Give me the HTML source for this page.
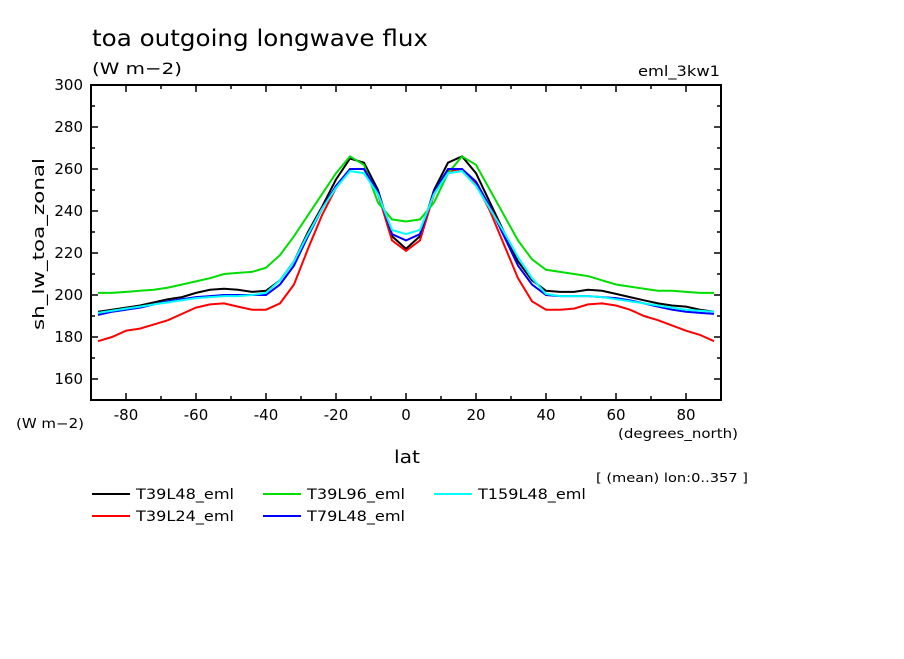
<!DOCTYPE html>
<html><head><meta charset="utf-8"><style>
body{margin:0;background:#fff;}
svg text{font-family:"DejaVu Sans","Liberation Sans",sans-serif;fill:#000;}
</style></head><body>
<svg id="chart" width="904" height="654" viewBox="0 0 904 654" xmlns="http://www.w3.org/2000/svg">
<rect width="904" height="654" fill="#fff"/>
<text x="92" y="46" font-size="23" textLength="336" lengthAdjust="spacingAndGlyphs">toa outgoing longwave flux</text>
<text x="92" y="74" font-size="16" textLength="90" lengthAdjust="spacingAndGlyphs">(W m−2)</text>
<text x="638" y="76" font-size="14" textLength="82" lengthAdjust="spacingAndGlyphs">eml_3kw1</text>
<text x="16" y="428" font-size="13" textLength="68" lengthAdjust="spacingAndGlyphs">(W m−2)</text>
<text x="618" y="438" font-size="13" textLength="120" lengthAdjust="spacingAndGlyphs">(degrees_north)</text>
<text x="394" y="463" font-size="18" textLength="26" lengthAdjust="spacingAndGlyphs">lat</text>
<text x="44" y="330" font-size="16" textLength="172" lengthAdjust="spacingAndGlyphs" transform="rotate(-90 44 330)">sh_lw_toa_zonal</text>
<text x="596" y="482" font-size="12" textLength="152" lengthAdjust="spacingAndGlyphs">[ (mean) lon:0..357 ]</text>
<g id="axes"></g>
<g id="series" fill="none" stroke-width="2"></g>
<g id="legend"></g>
</svg>
<script>
const lats=[-88,-84,-80,-76,-72,-68,-64,-60,-56,-52,-48,-44,-40,-36,-32,-28,-24,-20,-16,-12,-8,-4,0,4,8,12,16,20,24,28,32,36,40,44,48,52,56,60,64,68,72,76,80,84,88];
const t39l48=[192,193,194,195,196.5,198,199,201,202.5,203,202.5,201.5,202,207,216,230,242,255,265,263,250,228,222,228,250,263,266,258,244,230,216,207,202,201.5,201.5,202.5,202,200.5,199,197.5,196,195,194.5,193,192];
const t39l24=[178,180,183,184,186,188,191,194,195.5,196,194.5,193,193,196,205,222,238,251,260,260,248,226,221,226,248,259,260,253,240,224,208,197,193,193,193.5,195.5,196,195,193,190,188,185.5,183,181,178];
const t39l96=[201,201,201.5,202,202.5,203.5,205,206.5,208,210,210.5,211,213,219,228,238,248,258,266,262,244,236,235,236,244,258,266,262,250,238,226,217,212,211,210,209,207,205,204,203,202,202,201.5,201,201];
const t79l48=[190.5,192,193,194,195.5,197,198,199,199.5,200,200,200,200,205,214,228,241,252,260,260,249,229,226,229,249,260,260,254,242,228,214,205,200,199.5,199.5,199.5,199,198.5,197.5,196,194.5,193,192,191.5,191];
const t159l48=[191.5,192.5,193.5,194.5,195.5,196.5,197.5,198.5,199,199.5,199.5,200,201,207,216,229,241,251,259,258,248,231,229,231,248,258,259,252,241,230,218,208,200.5,199.5,199.5,199.5,199,198,197,196,195,194,193,192.5,192];
const seriesNames=["T39L48_eml","T39L24_eml","T39L96_eml","T79L48_eml","T159L48_eml"];
const seriesVals=[t39l48,t39l24,t39l96,t79l48,t159l48];
const seriesColors=["#000","#f00","#0d0","#00f","#0ff"];
const xTicks=[-80,-60,-40,-20,0,20,40,60,80];
const yTicks=[160,180,200,220,240,260,280,300];
const X0=91,X1=721,Y0=400,Y1=85,xMin=-90,xMax=90,yMin=150,yMax=300;
const xs=v=>X0+(v-xMin)/(xMax-xMin)*(X1-X0);
const ys=v=>Y0-(v-yMin)/(yMax-yMin)*(Y0-Y1);
const NS="http://www.w3.org/2000/svg";
function mk(tag,attrs,parent){const e=document.createElementNS(NS,tag);for(const k in attrs)e.setAttribute(k,attrs[k]);parent.appendChild(e);return e;}
const ax=document.getElementById('axes');
const frame=mk('rect',{x:X0,y:Y1,width:X1-X0,height:Y0-Y1,fill:'none',stroke:'#000','stroke-width':2},ax);


for(let v=-90;v<=90;v+=10){const x=xs(v);const big=xTicks.includes(v);
 mk('line',{x1:x,x2:x,y1:Y0,y2:Y0-(big?7:4),stroke:'#000','stroke-width':1.5},ax);
 mk('line',{x1:x,x2:x,y1:Y1,y2:Y1+(big?7:4),stroke:'#000','stroke-width':1.5},ax);}
xTicks.forEach(v=>{const t=mk('text',{x:xs(v),y:Y0+20,'font-size':15,'text-anchor':'middle'},ax);t.textContent=v;
 
 });
for(let v=150;v<=300;v+=10){const y=ys(v);const big=yTicks.includes(v);
 mk('line',{x1:X0,x2:X0+(big?7:4),y1:y,y2:y,stroke:'#000','stroke-width':1.5},ax);
 mk('line',{x1:X1,x2:X1-(big?7:4),y1:y,y2:y,stroke:'#000','stroke-width':1.5},ax);}
yTicks.forEach(v=>{const t=mk('text',{x:X0-8,y:ys(v)+5,'font-size':15,'text-anchor':'end'},ax);t.textContent=v;
 
 });
const sg=document.getElementById('series');
seriesVals.forEach((vals,i)=>{const d=vals.map((v,j)=>(j?'L':'M')+xs(lats[j]).toFixed(1)+','+ys(v).toFixed(1)).join('');
 const p=mk('path',{d:d,stroke:seriesColors[i]},sg);
 
 });
const lg=document.getElementById('legend');
const lpos=[[92,494],[92,516],[263,494],[263,516],[434,494]];
seriesNames.forEach((n,i)=>{const [x,y]=lpos[i];
 const g=mk('g',{},lg);
 
 
 mk('line',{x1:x,x2:x+38,y1:y,y2:y,stroke:seriesColors[i],'stroke-width':2},g);
 const t=mk('text',{x:x+44,y:y+5,'font-size':14,textLength:n.length*9.8,lengthAdjust:'spacingAndGlyphs'},g);t.textContent=n;});
</script>
</body></html>
